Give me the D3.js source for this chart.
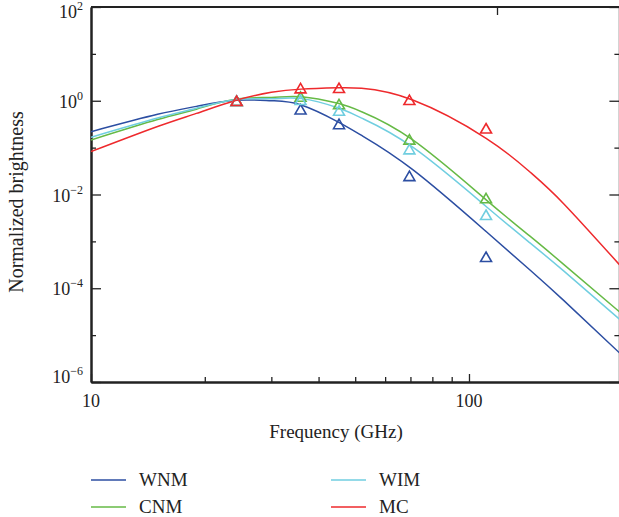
<!DOCTYPE html>
<html>
<head>
<meta charset="utf-8">
<script src="https://cdn.jsdelivr.net/npm/d3@7"></script>
<style>
  body { margin: 0; background: #fff; }
  svg text { font-family: "Liberation Serif", "DejaVu Serif", serif; fill: #222; }
</style>
</head>
<body>
<div id="chart"></div>
<script>

// frequencies (GHz) where the model curves were read
var curveFreqs = [10, 15, 19, 24, 30, 36, 45, 52, 71, 111, 145, 178, 250];

// model curves, normalized brightness
var wnmCurve = [0.219, 0.513, 0.759, 1.02, 1.0, 0.81, 0.355, 0.182, 0.0339, 1.62e-3, 2.45e-4, 5.5e-5, 4.2e-6];
var cnmCurve = [0.146, 0.398, 0.661, 1.07, 1.18, 1.22, 0.88, 0.583, 0.146, 7.7e-3, 1.29e-3, 3.24e-4, 3.16e-5];
var wimCurve = [0.166, 0.427, 0.692, 1.05, 1.10, 1.11, 0.708, 0.427, 0.102, 5.56e-3, 9.3e-4, 2.34e-4, 2.19e-5];
var mcCurve  = [0.0822, 0.282, 0.537, 1.0, 1.51, 1.77, 1.89, 1.84, 1.035, 0.158, 0.0302, 6.38e-3, 3.19e-4];

// measured bands (GHz), plotted against the top axis
var bandFreqs = [23, 33, 41, 61, 94];
var wnmPoints = [1.0, 0.66, 0.32, 0.025, 4.7e-4];
var cnmPoints = [1.0, 1.23, 0.85, 0.15, 8.4e-3];
var wimPoints = [1.0, 1.05, 0.62, 0.093, 3.7e-3];
var mcPoints  = [1.0, 1.86, 1.89, 1.05, 0.259];

var seriesNames = ["WNM", "CNM", "WIM", "MC"];
var seriesColors = ["#2c4ea2", "#66ba46", "#70cee0", "#ee2a2d"];

var yMajor = [1e2, 1e0, 1e-2, 1e-4, 1e-6];
var yMinor = [1e1, 1e-1, 1e-3, 1e-5];
var xMajor = [10, 100];
var xMinor = [20, 30, 40, 50, 60, 70, 80, 90];

var width = 619, height = 517;

var svg = d3.select("#chart").append("svg")
    .attr("width", width)
    .attr("height", height);

var x = d3.scaleLog().domain([10, 250]).range([91, 619.4]);
var xTop = d3.scaleLog().domain([10, 100]).range([89, 497]);
var y = d3.scaleLog().domain([1e-6, 1e2]).range([382, 7]);

var series = seriesNames.map(function(name, i) {
    var c = [wnmCurve, cnmCurve, wimCurve, mcCurve][i];
    var p = [wnmPoints, cnmPoints, wimPoints, mcPoints][i];
    return {
        name: name,
        color: seriesColors[i],
        curve: curveFreqs.map(function(f, j) { return { f: f, v: c[j] }; }),
        points: bandFreqs.map(function(f, j) { return { f: f, v: p[j] }; })
    };
});

// --- axes (ticks point inward) ---
function styleAxis(g) {
    g.select(".domain").attr("stroke", "#222").attr("stroke-width", 2);
    g.selectAll(".tick line").attr("stroke", "#222").attr("stroke-width", 1.3);
}

svg.append("g")
    .attr("transform", "translate(91,0)")
    .call(d3.axisRight(y).tickValues(yMajor).tickSize(10).tickSizeOuter(0).tickFormat(""))
    .call(styleAxis);
svg.append("g")
    .attr("transform", "translate(91,0)")
    .call(d3.axisRight(y).tickValues(yMinor).tickSize(5).tickSizeOuter(0).tickFormat(""))
    .call(styleAxis);

svg.append("g")
    .attr("transform", "translate(619.4,0)")
    .call(d3.axisLeft(y).tickValues(yMajor).tickSize(10).tickSizeOuter(0).tickFormat(""))
    .call(styleAxis);
svg.append("g")
    .attr("transform", "translate(619.4,0)")
    .call(d3.axisLeft(y).tickValues(yMinor).tickSize(5).tickSizeOuter(0).tickFormat(""))
    .call(styleAxis);

svg.append("g")
    .attr("transform", "translate(0,382)")
    .call(d3.axisTop(x).tickValues(xMajor).tickSize(8).tickSizeOuter(0).tickFormat(""))
    .call(styleAxis);
svg.append("g")
    .attr("transform", "translate(0,382)")
    .call(d3.axisTop(x).tickValues(xMinor).tickSize(5).tickSizeOuter(0).tickFormat(""))
    .call(styleAxis);

// top frame line, with the band axis tick
svg.append("line")
    .attr("x1", 91).attr("x2", 619.4)
    .attr("y1", y(1e2)).attr("y2", y(1e2))
    .attr("stroke", "#222").attr("stroke-width", 2);
svg.append("g")
    .attr("transform", "translate(0," + y(1e2) + ")")
    .call(d3.axisBottom(xTop).tickValues([100]).tickSize(8).tickSizeOuter(0).tickFormat(""))
    .call(styleAxis)
    .select(".domain").remove();

// y tick labels: 10^n (end labels pulled inside the frame)
var yLabels = svg.append("g").selectAll("text")
    .data(yMajor)
    .enter().append("text")
    .attr("x", 83)
    .attr("y", function(d) { return Math.max(18, Math.min(383, y(d) + 7)); })
    .attr("text-anchor", "end")
    .style("font-size", "18px");
yLabels.append("tspan").text("10");
yLabels.append("tspan")
    .attr("dy", -8)
    .style("font-size", "12px")
    .text(function(d) {
        var e = Math.round(Math.log10(d));
        return e < 0 ? "\u2212" + (-e) : "" + e;
    });

// x tick labels
svg.append("g").selectAll("text")
    .data(xMajor)
    .enter().append("text")
    .attr("x", function(d) { return x(d); })
    .attr("y", 407)
    .attr("text-anchor", "middle")
    .style("font-size", "18px")
    .text(function(d) { return d; });

svg.append("text")
    .attr("x", 336)
    .attr("y", 438)
    .attr("text-anchor", "middle")
    .style("font-size", "19px")
    .text("Frequency (GHz)");

svg.append("text")
    .attr("transform", "translate(23,202) rotate(-90)")
    .attr("text-anchor", "middle")
    .style("font-size", "20px")
    .text("Normalized brightness");

// --- curves ---
var line = d3.line()
    .x(function(d) { return x(d.f); })
    .y(function(d) { return y(d.v); })
    .curve(d3.curveNatural);

svg.append("clipPath").attr("id", "plot-clip")
    .append("rect")
    .attr("x", 91).attr("y", 7)
    .attr("width", 619.4 - 91).attr("height", 375);

var plot = svg.append("g").attr("clip-path", "url(#plot-clip)");

plot.selectAll("path.model")
    .data(series)
    .enter().append("path")
    .attr("class", "model")
    .attr("fill", "none")
    .attr("stroke", function(d) { return d.color; })
    .attr("stroke-width", 1.5)
    .attr("d", function(d) { return line(d.curve); });

// --- band markers (open triangles) ---
var tri = d3.symbol().type(d3.symbolTriangle).size(52);

series.forEach(function(s) {
    plot.selectAll(null)
        .data(s.points)
        .enter().append("path")
        .attr("d", tri)
        .attr("transform", function(d) { return "translate(" + xTop(d.f) + "," + (y(d.v) + 1.6) + ")"; })
        .attr("fill", "none")
        .attr("stroke", s.color)
        .attr("stroke-width", 1.6);
});

// --- legend ---
var legendPos = [[91, 480], [91, 507], [331, 480], [331, 507]];

var legend = svg.append("g").selectAll("g")
    .data(series)
    .enter().append("g")
    .attr("transform", function(d, i) { return "translate(" + legendPos[i][0] + "," + legendPos[i][1] + ")"; });

legend.append("line")
    .attr("x1", 0).attr("x2", 35)
    .attr("stroke", function(d) { return d.color; })
    .attr("stroke-width", 1.5);

legend.append("text")
    .attr("x", 48)
    .attr("y", 6)
    .style("font-size", "19px")
    .text(function(d) { return d.name; });

</script>
</body>
</html>
